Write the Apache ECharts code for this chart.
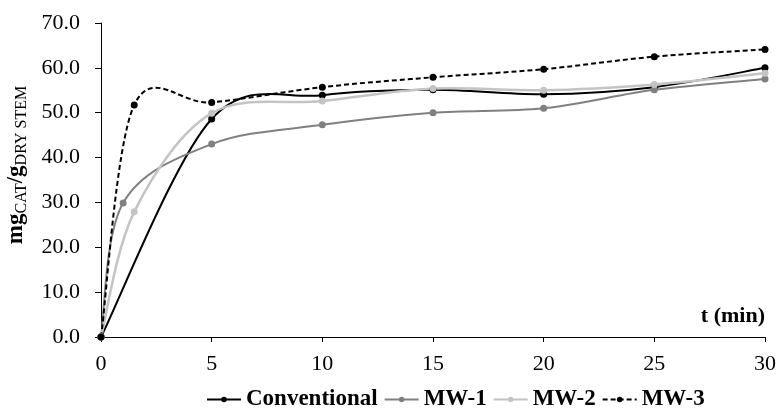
<!DOCTYPE html>
<html>
<head>
<meta charset="utf-8">
<script src="https://cdn.jsdelivr.net/npm/echarts@6/dist/echarts.min.js"></script>
<style>html,body{margin:0;padding:0;background:#fff}#c{width:777px;height:417px}</style>
</head>
<body>
<div id="c"></div>
<script>
// ---- data ----
const seriesNames = ['Conventional', 'MW-1', 'MW-2', 'MW-3'];
const tConv = [0, 5, 10, 15, 20, 25, 30];
const conv  = [0, 48.6, 53.9, 55.1, 54.1, 55.7, 60.0];
const tMW1  = [0, 1, 5, 10, 15, 20, 25, 30];
const mw1   = [0, 29.9, 43.0, 47.3, 50.0, 51.0, 55.1, 57.5];
const tMW2  = [0, 1.5, 5, 10, 15, 20, 25, 30];
const mw2   = [0, 27.9, 49.9, 52.6, 55.4, 55.0, 56.3, 58.8];
const tMW3  = [0, 1.5, 5, 10, 15, 20, 25, 30];
const mw3   = [0, 51.7, 52.3, 55.7, 57.9, 59.7, 62.5, 64.1];
const xTicks = [0, 5, 10, 15, 20, 25, 30];
const yTicks = [0, 10, 20, 30, 40, 50, 60, 70];

const FONT = "'Liberation Serif','Times New Roman',serif";
const styles = [
  {color: '#000000', width: 2, dash: null, size: 7},
  {color: '#808080', width: 2, dash: null, size: 7},
  {color: '#c4c4c4', width: 2.5, dash: null, size: 7},
  {color: '#000000', width: 2, dash: [5, 3], size: 7}
];
const sets = [[tConv, conv], [tMW1, mw1], [tMW2, mw2], [tMW3, mw3]];

function pairs(ts, vs) { return ts.map((t, i) => [t, vs[i]]); }

// smooth curve (Excel-like cardinal spline) through the library-projected points
function curveRenderer(ts, vs, st) {
  return function (params, api) {
    if (params.dataIndex !== 0) return null;
    const p = ts.map((t, i) => api.coord([t, vs[i]]));
    let d = 'M' + p[0][0] + ',' + p[0][1];
    for (let i = 0; i < p.length - 1; i++) {
      const p0 = p[Math.max(i - 1, 0)], p1 = p[i], p2 = p[i + 1], p3 = p[Math.min(i + 2, p.length - 1)];
      const c1 = [p1[0] + (p2[0] - p0[0]) / 6, p1[1] + (p2[1] - p0[1]) / 6];
      const c2 = [p2[0] - (p3[0] - p1[0]) / 6, p2[1] - (p3[1] - p1[1]) / 6];
      d += ' C' + c1[0] + ',' + c1[1] + ' ' + c2[0] + ',' + c2[1] + ' ' + p2[0] + ',' + p2[1];
    }
    const style = {fill: 'none', stroke: st.color, lineWidth: st.width};
    if (st.dash) style.lineDash = st.dash;
    return {type: 'path', shape: {pathData: d}, style: style, silent: true};
  };
}

const series = [];
sets.forEach((s, k) => {
  series.push({
    type: 'custom',
    name: '_curve' + k,
    renderItem: curveRenderer(s[0], s[1], styles[k]),
    data: pairs(s[0], s[1]),
    encode: {x: 0, y: 1},
    silent: true,
    z: 2
  });
});
sets.forEach((s, k) => {
  series.push({
    type: 'line',
    name: seriesNames[k],
    data: pairs(s[0], s[1]),
    symbol: 'circle',
    symbolSize: styles[k].size,
    showAllSymbol: true,
    itemStyle: {color: styles[k].color},
    lineStyle: {color: styles[k].color, width: styles[k].width, type: styles[k].dash ? styles[k].dash : 'solid', opacity: 0},
    z: 3
  });
});

const chart = echarts.init(document.getElementById('c'));
chart.setOption({
  animation: false,
  backgroundColor: '#ffffff',
  grid: {left: 101, right: 12, top: 23, bottom: 80, containLabel: false, outerBoundsMode: 'none'},
  title: {
    text: 't (min)', right: 7, top: 300,
    textStyle: {fontFamily: FONT, fontWeight: 'bold', fontSize: 22, color: '#000'}
  },
  legend: {
    data: seriesNames,
    left: 201, top: 383,
    itemWidth: 34, itemHeight: 7, itemGap: 6,
    lineStyle: {opacity: 1},
    textStyle: {fontFamily: FONT, fontWeight: 'bold', fontSize: 23, color: '#000'}
  },
  xAxis: {
    type: 'value', min: xTicks[0], max: xTicks[xTicks.length - 1], interval: 5,
    axisLine: {lineStyle: {color: '#000', width: 1}},
    axisTick: {show: true, length: 5, lineStyle: {color: '#000'}},
    splitLine: {show: false},
    axisLabel: {margin: 16, fontFamily: FONT, fontSize: 22, color: '#000'}
  },
  yAxis: {
    type: 'value', min: yTicks[0], max: yTicks[yTicks.length - 1], interval: 10,
    axisLine: {show: true, lineStyle: {color: '#000', width: 1}},
    axisTick: {show: true, length: 6, lineStyle: {color: '#000'}},
    splitLine: {show: false},
    axisLabel: {margin: 21, fontFamily: FONT, fontSize: 22, color: '#000', formatter: v => v.toFixed(1)},
    name: '{b|mg}{s|CAT}{b|/g}{s|DRY STEM}',
    nameLocation: 'middle',
    nameGap: 71,
    nameRotate: 90,
    nameTextStyle: {
      padding: [0, 0, 0, 30],
      rich: {
        b: {fontFamily: FONT, fontWeight: 'bold', fontSize: 23, lineHeight: 27, color: '#000'},
        s: {fontFamily: FONT, fontWeight: 'normal', fontSize: 16, lineHeight: 16, verticalAlign: 'bottom', color: '#000'}
      }
    }
  },
  series: series
});
</script>
</body>
</html>
